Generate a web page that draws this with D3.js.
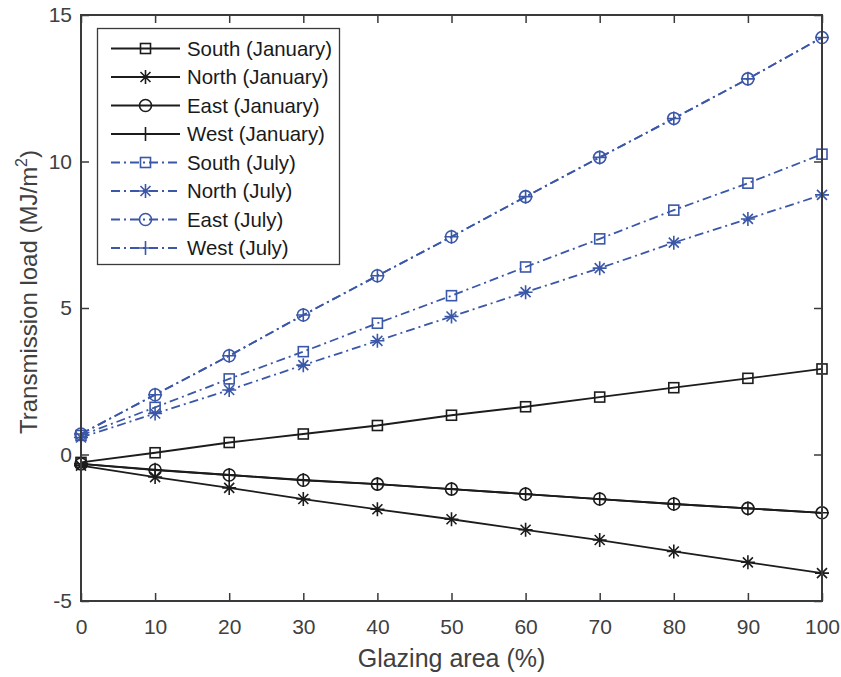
<!DOCTYPE html>
<html>
<head>
<meta charset="utf-8">
<script src="https://cdn.jsdelivr.net/npm/d3@7/dist/d3.min.js"></script>
<style>
  html, body { margin: 0; padding: 0; background: #fff; }
  svg { display: block; }
  text { font-family: "Liberation Sans", Arial, sans-serif; }
</style>
</head>
<body>
<svg id="chart" width="841" height="677"></svg>
<script>
// Glazing area (%) on the x axis
const glazing = [0, 10, 20, 30, 40, 50, 60, 70, 80, 90, 100];

// Transmission load (MJ/m²) for each orientation and month
const southJan = [-0.27, 0.06, 0.41, 0.70, 0.99, 1.34, 1.63, 1.96, 2.28, 2.60, 2.92];
const northJan = [-0.38, -0.77, -1.14, -1.52, -1.87, -2.21, -2.57, -2.92, -3.31, -3.68, -4.05];
const eastJan  = [-0.32, -0.53, -0.70, -0.88, -1.01, -1.18, -1.35, -1.52, -1.69, -1.84, -1.99];
const westJan  = [-0.32, -0.52, -0.70, -0.87, -1.01, -1.18, -1.35, -1.52, -1.69, -1.84, -1.99];
const southJul = [0.65, 1.61, 2.58, 3.51, 4.48, 5.42, 6.40, 7.36, 8.34, 9.26, 10.25];
const northJul = [0.58, 1.40, 2.20, 3.05, 3.88, 4.71, 5.54, 6.36, 7.23, 8.04, 8.86];
const eastJul  = [0.70, 2.04, 3.37, 4.76, 6.10, 7.43, 8.80, 10.14, 11.47, 12.82, 14.23];
const westJul  = [0.70, 2.04, 3.37, 4.76, 6.10, 7.43, 8.80, 10.14, 11.47, 12.82, 14.23];

const seriesNames = ["South (January)", "North (January)", "East (January)", "West (January)",
                     "South (July)", "North (July)", "East (July)", "West (July)"];
const seriesValues = [southJan, northJan, eastJan, westJan, southJul, northJul, eastJul, westJul];
const seriesMarkers = ["square", "star", "circle", "plus", "square", "star", "circle", "plus"];
const seriesMonth = ["jan", "jan", "jan", "jan", "jul", "jul", "jul", "jul"];

const xTicks = [0, 10, 20, 30, 40, 50, 60, 70, 80, 90, 100];
const yTicks = [-5, 0, 5, 10, 15];

const style = {
  jan: { color: "#1c1c1c", dash: null },
  jul: { color: "#3b57a8", dash: "9,4,2,4" }
};
const axisColor = "#3a3a3a";

const svg = d3.select("#chart");
const plot = { left: 81, right: 822, top: 15, bottom: 601 };

const x = d3.scaleLinear().domain([0, 100]).range([plot.left, plot.right]);
const y = d3.scaleLinear().domain([-5, 15]).range([plot.bottom, plot.top]);

// Plain hyphen for negative tick labels
const plainFormat = d => String(d);

// Axes: ticks point inward, box closed on all sides
const tickLen = 8;
const gx = svg.append("g").attr("transform", `translate(0,${plot.bottom})`)
  .call(d3.axisBottom(x).tickValues(xTicks).tickFormat(plainFormat)
    .tickSizeInner(-tickLen).tickSizeOuter(0).tickPadding(18));
const gxTop = svg.append("g").attr("transform", `translate(0,${plot.top})`)
  .call(d3.axisTop(x).tickValues(xTicks).tickSizeInner(-tickLen).tickSizeOuter(0).tickFormat(""));
const gy = svg.append("g").attr("transform", `translate(${plot.left},0)`)
  .call(d3.axisLeft(y).tickValues(yTicks).tickFormat(plainFormat)
    .tickSizeInner(-tickLen).tickSizeOuter(0).tickPadding(9));
const gyRight = svg.append("g").attr("transform", `translate(${plot.right},0)`)
  .call(d3.axisRight(y).tickValues(yTicks).tickSizeInner(-tickLen).tickSizeOuter(0).tickFormat(""));

[gx, gxTop, gy, gyRight].forEach(g => {
  g.select(".domain").remove();
  g.selectAll(".tick line").attr("stroke", axisColor).attr("stroke-width", 1.5);
  g.selectAll(".tick text").attr("fill", "#404040").style("font-size", "21px");
});

// Plot lines and markers
const line = d3.line().x((d, i) => x(glazing[i])).y(d => y(d));

function drawMarker(g, kind, cx, cy, color) {
  const s = g.append("g").attr("transform", `translate(${cx},${cy})`)
    .attr("fill", "none").attr("stroke", color).attr("stroke-width", 1.6);
  if (kind === "square") {
    s.append("rect").attr("x", -5).attr("y", -5).attr("width", 10).attr("height", 10);
  } else if (kind === "circle") {
    s.append("circle").attr("r", 6);
  } else if (kind === "plus") {
    s.append("path").attr("d", "M-7,0H7M0,-7V7");
  } else if (kind === "star") {
    const a = 5;
    s.append("path").attr("d", `M-7,0H7M0,-7V7M${-a},${-a}L${a},${a}M${-a},${a}L${a},${-a}`);
  }
}

const dataLayer = svg.append("g");
seriesValues.forEach((vals, k) => {
  const st = style[seriesMonth[k]];
  dataLayer.append("path")
    .attr("d", line(vals))
    .attr("fill", "none")
    .attr("stroke", st.color)
    .attr("stroke-width", 1.8)
    .attr("stroke-dasharray", st.dash);
  const mg = dataLayer.append("g");
  vals.forEach((v, i) => drawMarker(mg, seriesMarkers[k], x(glazing[i]), y(v), st.color));
});

// Axes box
svg.append("rect")
  .attr("x", plot.left).attr("y", plot.top)
  .attr("width", plot.right - plot.left).attr("height", plot.bottom - plot.top)
  .attr("fill", "none").attr("stroke", axisColor).attr("stroke-width", 2);

// Legend
const legend = svg.append("g");
legend.append("rect")
  .attr("x", 97.5).attr("y", 28.5).attr("width", 242).attr("height", 236)
  .attr("fill", "#fff").attr("stroke", "#3a3a3a").attr("stroke-width", 1.3);
const rowY0 = 48.5, rowStep = 28.5;
seriesNames.forEach((name, k) => {
  const st = style[seriesMonth[k]];
  const ry = rowY0 + k * rowStep;
  legend.append("line")
    .attr("x1", 111).attr("x2", 180).attr("y1", ry).attr("y2", ry)
    .attr("stroke", st.color).attr("stroke-width", 1.8)
    .attr("stroke-dasharray", st.dash);
  drawMarker(legend, seriesMarkers[k], 145.5, ry, st.color);
  legend.append("text")
    .attr("x", 187).attr("y", ry + 7)
    .attr("fill", "#1a1a1a")
    .style("font-size", "20.4px")
    .text(name);
});

// Axis titles
svg.append("text")
  .attr("x", (plot.left + plot.right) / 2).attr("y", 667)
  .attr("text-anchor", "middle").attr("fill", "#404040")
  .style("font-size", "25px")
  .text("Glazing area (%)");

const yl = svg.append("text")
  .attr("transform", "translate(37,292) rotate(-90)")
  .attr("text-anchor", "middle").attr("fill", "#404040")
  .style("font-size", "24px");
yl.append("tspan").text("Transmission load (MJ/m");
yl.append("tspan").attr("dy", -10).style("font-size", "16px").text("2");
yl.append("tspan").attr("dy", 10).text(")");
</script>
</body>
</html>
